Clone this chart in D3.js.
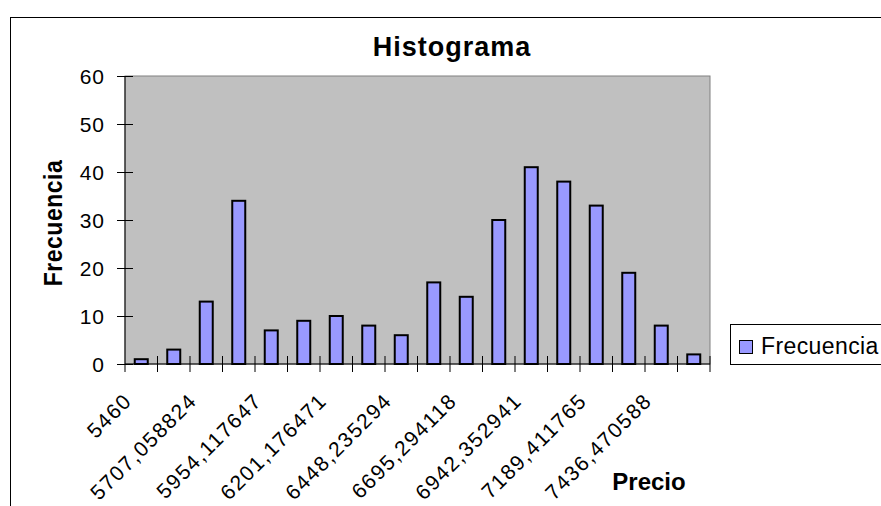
<!DOCTYPE html>
<html>
<head>
<meta charset="utf-8">
<script src="https://cdn.jsdelivr.net/npm/d3@7"></script>
<style>
  html, body { margin: 0; padding: 0; background: #fff; }
  svg { display: block; font-family: "Liberation Sans", Arial, sans-serif; }
</style>
</head>
<body>
<svg id="chart" width="881" height="506"></svg>
<script>
// Histogram bins (lower bound of each price class) and their counts
const categories = [
  "5460", "5583,529412", "5707,058824", "5830,588235", "5954,117647",
  "6077,647059", "6201,176471", "6324,705882", "6448,235294", "6571,764706",
  "6695,294118", "6818,823529", "6942,352941", "7065,882353", "7189,411765",
  "7312,941176", "7436,470588", "y mayor..."
];
const frecuencia = [1, 3, 13, 34, 7, 9, 10, 8, 6, 17, 14, 30, 41, 38, 33, 19, 8, 2];
const yTicks = [0, 10, 20, 30, 40, 50, 60];
// every other class label is printed under the axis
const shownLabels = categories.filter((d, i) => i % 2 === 0 && i < 17);

const svg = d3.select("#chart");

const plot = { left: 125, right: 710, top: 76, bottom: 364 };

const x = d3.scaleBand()
  .domain(categories)
  .range([plot.left, plot.right])
  .paddingInner(0).paddingOuter(0);

const y = d3.scaleLinear()
  .domain([0, 60])
  .range([plot.bottom, plot.top]);

// chart frame
svg.append("rect")
  .attr("x", 10.5).attr("y", 17.5)
  .attr("width", 900).attr("height", 520)
  .attr("fill", "#fff").attr("stroke", "#000").attr("stroke-width", 1);

// plot area
svg.append("rect")
  .attr("x", plot.left).attr("y", plot.top)
  .attr("width", plot.right - plot.left).attr("height", plot.bottom - plot.top)
  .attr("fill", "#C0C0C0").attr("stroke", "#808080").attr("stroke-width", 1);

// bars
const barW = x.bandwidth() * 0.4;
svg.append("g").selectAll("rect")
  .data(frecuencia)
  .join("rect")
  .attr("x", (d, i) => x(categories[i]) + (x.bandwidth() - barW) / 2)
  .attr("y", d => y(d))
  .attr("width", barW)
  .attr("height", d => y(0) - y(d))
  .attr("fill", "#9999FF")
  .attr("stroke", "#000")
  .attr("stroke-width", 2);

// y axis (cross ticks)
const yAxis = d3.axisLeft(y).tickValues(yTicks).tickSize(0).tickPadding(0);
const gy = svg.append("g").attr("transform", `translate(${plot.left},0)`).call(yAxis);
gy.select(".domain").remove();
gy.selectAll(".tick line").attr("x1", -8).attr("x2", 8).attr("stroke", "#000");
gy.selectAll(".tick text")
  .attr("x", -20)
  .attr("dy", "0.36em")
  .attr("fill", "#000")
  .style("font-size", "21px")
  .style("letter-spacing", "1px")
  .style("font-family", "Liberation Sans, Arial, sans-serif");
svg.append("line")
  .attr("x1", plot.left).attr("x2", plot.left)
  .attr("y1", plot.top).attr("y2", plot.bottom + 8)
  .attr("stroke", "#000");

// x axis: category boundary ticks
const xAxis = d3.axisBottom(x).tickSize(0).tickFormat(() => "");
const gx = svg.append("g").attr("transform", `translate(0,${plot.bottom})`).call(xAxis);
gx.select(".domain").attr("stroke", "#000").attr("d", `M${plot.left},0H${plot.right}`);
gx.selectAll(".tick").remove();
const boundaries = categories.map(c => x(c)).concat([x(categories[categories.length - 1]) + x.bandwidth()]);
gx.selectAll("line.bnd")
  .data(boundaries.slice(1))
  .join("line")
  .attr("class", "bnd")
  .attr("x1", d => d).attr("x2", d => d)
  .attr("y1", -8).attr("y2", 8)
  .attr("stroke", "#000");

// rotated class labels
gx.selectAll("text.lbl")
  .data(shownLabels)
  .join("text")
  .attr("class", "lbl")
  .attr("text-anchor", "end")
  .attr("transform", d => `translate(${x(d) + x.bandwidth() / 2 - 8},38) rotate(-45)`)
  .attr("fill", "#000")
  .style("font-size", "21px")
  .style("letter-spacing", "1.6px")
  .text(d => d);

// titles
svg.append("text")
  .attr("x", 452).attr("y", 56)
  .attr("text-anchor", "middle")
  .style("font-size", "27px").style("font-weight", "bold")
  .style("letter-spacing", "1px")
  .text("Histograma");

svg.append("text")
  .attr("transform", "translate(62,223) rotate(-90) scale(1,1.15)")
  .attr("text-anchor", "middle")
  .style("font-size", "23px").style("font-weight", "bold")
  .style("letter-spacing", "0.5px")
  .text("Frecuencia");

svg.append("text")
  .attr("x", 649).attr("y", 490)
  .attr("text-anchor", "middle")
  .style("font-size", "24px").style("font-weight", "bold")
  .text("Precio");

// legend
const lg = svg.append("g");
lg.append("rect")
  .attr("x", 730.5).attr("y", 324.5)
  .attr("width", 200).attr("height", 40)
  .attr("fill", "#fff").attr("stroke", "#000");
lg.append("rect")
  .attr("x", 739.5).attr("y", 340.5)
  .attr("width", 13).attr("height", 13)
  .attr("fill", "#9999FF").attr("stroke", "#000");
lg.append("text")
  .attr("x", 761).attr("y", 354)
  .style("font-size", "23px")
  .style("letter-spacing", "0.4px")
  .text("Frecuencia");
</script>
</body>
</html>
